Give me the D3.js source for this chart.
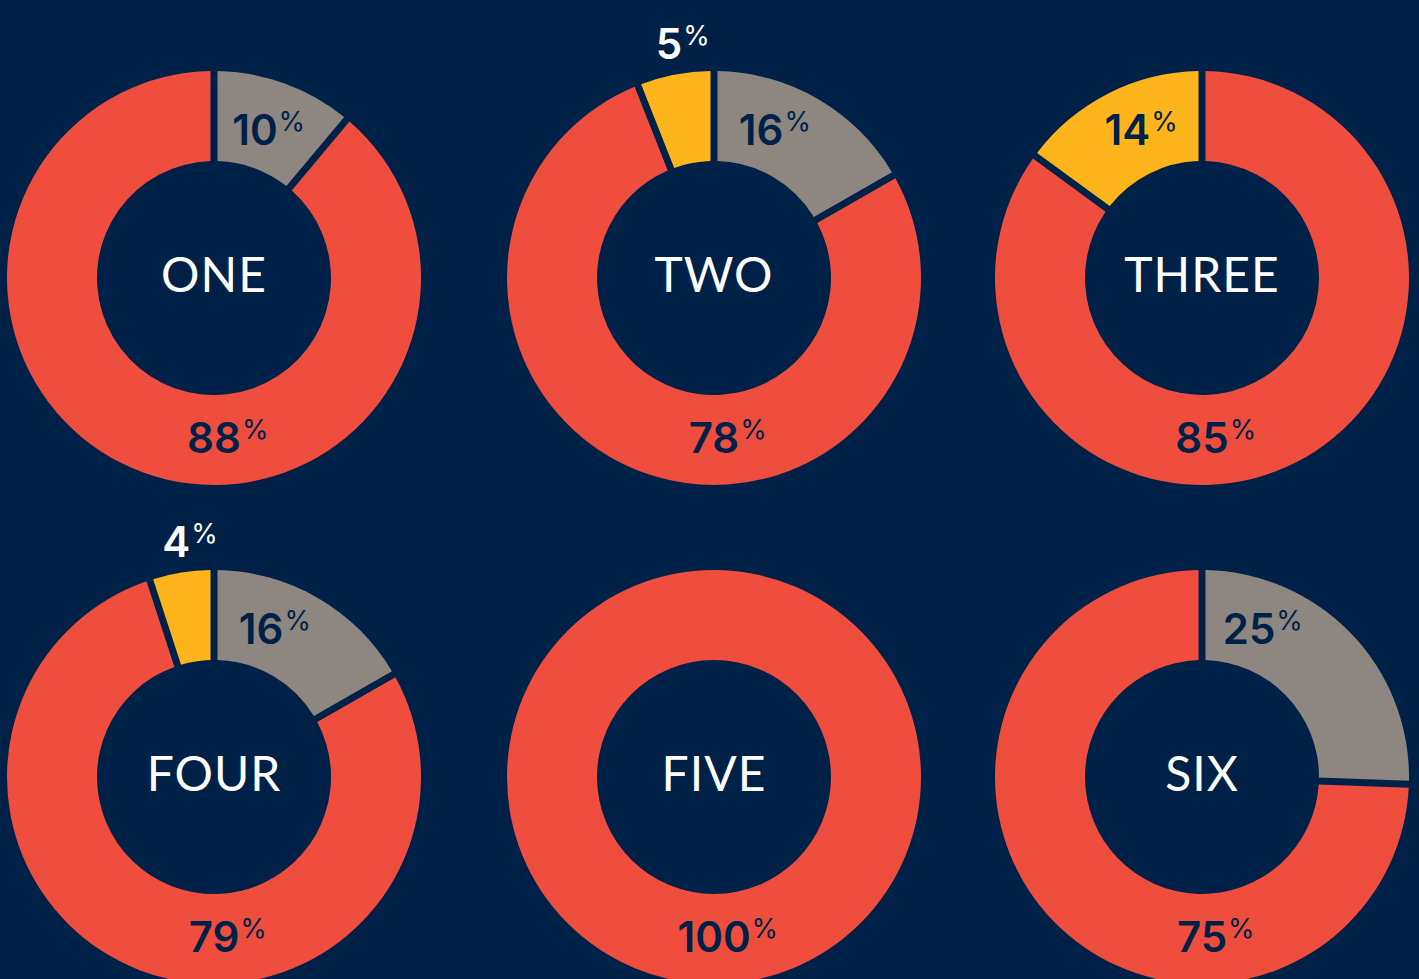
<!DOCTYPE html>
<html>
<head>
<meta charset="utf-8">
<script src="https://cdn.jsdelivr.net/npm/d3@7"></script>
<style>
  html, body { margin: 0; padding: 0; background: #002147; }
  svg { display: block; }
</style>
</head>
<body>
<div id="chart"></div>
<script>
// data
var names = ["ONE", "TWO", "THREE", "FOUR", "FIVE", "SIX"];
var grayValues   = [10, 16, 0, 16, 0, 25];
var redValues    = [88, 78, 85, 79, 100, 75];
var yellowValues = [0, 5, 14, 4, 0, 0];

var width = 1419, height = 979;
var bg = "#002147";
var colors = {gray: "#8e8781", red: "#ef4e3f", yellow: "#fdb51b"};

var colX = [214, 714, 1202], rowY = [278, 777];
var outerR = 207, innerR = 117;

var svg = d3.select("#chart")
  .append("svg")
  .attr("width", width)
  .attr("height", height);

svg.append("rect")
  .attr("width", width)
  .attr("height", height)
  .attr("fill", bg);

var pie = d3.pie()
  .sort(null)
  .value(function(d) { return d.value; })
  .padAngle(0.07);

var arc = d3.arc()
  .innerRadius(innerR)
  .outerRadius(outerR)
  .padRadius(100);

// puts a "NN%" label centred vertically on y; align = "whole" centres full text, "num" centres the number
function addLabel(g, x, y, value, fill, align) {
  var t = g.append("text")
    .attr("y", y + 15)
    .attr("fill", fill)
    .style("font-family", "Inter, Lato, sans-serif");
  var num = t.append("tspan")
    .style("font-size", "42px")
    .style("font-weight", 600)
    .text(value);
  var pct = t.append("tspan")
    .style("font-size", "27px")
    .style("font-weight", 400)
    .attr("dx", 1)
    .attr("dy", -14)
    .text("%");
  var nw = num.node().getComputedTextLength();
  var pw = pct.node().getComputedTextLength();
  var x0 = align == "num" ? x - nw / 2 : x - (nw + pw + 1) / 2;
  t.attr("x", x0);
}

names.forEach(function(name, i) {
  var cx = colX[i % 3], cy = rowY[Math.floor(i / 3)];
  var data = [
    {key: "gray", value: grayValues[i]},
    {key: "red", value: redValues[i]},
    {key: "yellow", value: yellowValues[i]}
  ].filter(function(d) { return d.value > 0; });

  var g = svg.append("g")
    .attr("transform", "translate(" + cx + "," + cy + ")");

  var arcs = pie(data);

  g.selectAll("path")
    .data(arcs)
    .enter().append("path")
      .attr("d", arc)
      .attr("fill", function(d) { return colors[d.data.key]; });

  g.append("text")
    .attr("x", 0)
    .attr("y", 14)
    .attr("text-anchor", "middle")
    .attr("fill", "#ffffff")
    .style("font-family", "Lato, 'Open Sans', sans-serif")
    .style("font-size", "48px")
    .style("font-weight", 400)
    .style("letter-spacing", "1px")
    .text(name);

  arcs.forEach(function(a) {
    var mid = (a.startAngle + a.endAngle) / 2;
    if (a.data.key == "red") {
      addLabel(g, 0, 160, a.data.value, bg, "num");
    } else if (a.data.key == "yellow" && a.data.value < 10) {
      var ang = mid - 2 * Math.PI;
      addLabel(g, 240 * Math.sin(ang), -238 * Math.cos(ang), a.data.value, "#ffffff", "num");
    } else {
      var ang2 = mid > Math.PI ? mid - 2 * Math.PI : mid;
      ang2 = Math.max(-0.39, Math.min(0.39, ang2));
      addLabel(g, 160 * Math.sin(ang2), -148, a.data.value, bg, "whole");
    }
  });
});
</script>
</body>
</html>
